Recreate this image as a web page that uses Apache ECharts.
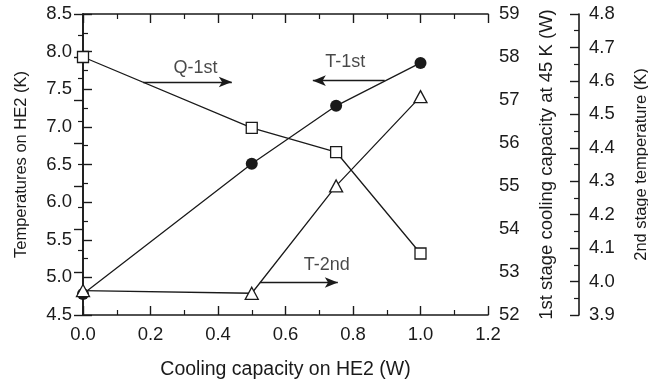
<!DOCTYPE html>
<html><head><meta charset="utf-8">
<script src="https://cdn.jsdelivr.net/npm/echarts@6/dist/echarts.min.js"></script>
<style>html,body{margin:0;padding:0;background:#fff}#c{width:648px;height:383px}</style>
</head><body><div id="c"></div>
<script>
// Data
var xValues = [0, 0.5, 0.75, 1.0];
var t1stValues = [4.78, 6.51, 7.28, 7.85];        // left axis (K)
var q1stValues = [58.0, 56.35, 55.79, 53.43];     // right axis 1 (W)
var t2ndValues = [3.973, 3.965, 4.286, 4.553];    // right axis 2 (K)
// annotation labels with arrow (data coordinates on x / left axis)
var annoLabels = ['Q-1st', 'T-1st', 'T-2nd'];
var annoTextPos = [[0.333, 7.78], [0.777, 7.866], [0.7225, 5.165]];
var annoArrowFrom = [[0.178, 7.596], [0.894, 7.614], [0.524, 4.932]];
var annoArrowTo = [[0.441, 7.596], [0.681, 7.614], [0.755, 4.932]];

var FONT = 'Liberation Sans, Arial, Helvetica, sans-serif';
var INK = '#1a1a1a';
var TICK_FS = 18.5;

function pairs(xs, ys) { return xs.map(function (x, i) { return [x, ys[i]]; }); }

var axisCommon = {
  axisLine: { show: true, lineStyle: { color: INK, width: 1.6 } },
  axisTick: { show: true, inside: true, length: 9, lineStyle: { color: INK, width: 1.4 } },
  minorTick: { show: true, splitNumber: 2, length: 5, lineStyle: { color: INK, width: 1.2 } },
  splitLine: { show: false },
  axisLabel: { color: INK, fontFamily: FONT, fontSize: TICK_FS },
  nameTextStyle: { color: INK, fontFamily: FONT, fontSize: 16 }
};
function ax(o) { return Object.assign({}, JSON.parse(JSON.stringify(axisCommon)), o); }
function lbl(margin, fmt) {
  var o = { color: INK, fontFamily: FONT, fontSize: TICK_FS, margin: margin };
  if (fmt) o.formatter = fmt;
  return o;
}
function f1(v) { return v.toFixed(1); }

var chart = echarts.init(document.getElementById('c'), null, { renderer: 'canvas' });

var lineStyle = { color: INK, width: 1.3 };

var option = {
  animation: false,
  backgroundColor: '#fff',
  grid: { left: 83, top: 14, right: 160, bottom: 68, containLabel: false, outerBoundsMode: 'none' },
  xAxis: [
    ax({ type: 'value', min: 0, max: 1.2, interval: 0.2, position: 'bottom',
      name: 'Cooling capacity on HE2 (W)', nameLocation: 'middle', nameGap: 45,
      nameTextStyle: { color: INK, fontFamily: FONT, fontSize: 19.5 },
      axisLabel: lbl(10, f1) }),
    ax({ type: 'value', min: 0, max: 1.2, interval: 0.2, position: 'top',
      axisLabel: { show: false } })
  ],
  yAxis: [
    ax({ type: 'value', min: 4.5, max: 8.5, interval: 0.5, position: 'left',
      name: 'Temperatures on HE2 (K)', nameLocation: 'middle', nameGap: 53,
      nameTextStyle: { color: INK, fontFamily: FONT, fontSize: 16.5 },
      axisLabel: lbl(11, f1) }),
    ax({ type: 'value', min: 52, max: 59, interval: 1, position: 'right', offset: 0,
      name: '1st stage cooling capacity at 45 K (W)', nameLocation: 'middle', nameGap: 49,
      nameTextStyle: { color: INK, fontFamily: FONT, fontSize: 18.5 },
      axisLabel: lbl(11) }),
    ax({ type: 'value', min: 3.9, max: 4.8, interval: 0.1, position: 'right', offset: 91,
      name: '2nd stage temperature (K)', nameLocation: 'middle', nameGap: 54,
      nameTextStyle: { color: INK, fontFamily: FONT, fontSize: 16.5 },
      axisLabel: lbl(10, f1) })
  ],
  series: [
    {
      name: 'Q-1st', type: 'line', xAxisIndex: 0, yAxisIndex: 1,
      data: pairs(xValues, q1stValues),
      symbol: 'rect', symbolSize: 11, showAllSymbol: true,
      itemStyle: { color: '#fff', borderColor: INK, borderWidth: 1.3 },
      lineStyle: lineStyle, z: 2
    },
    {
      name: 'T-1st', type: 'line', xAxisIndex: 0, yAxisIndex: 0,
      data: pairs(xValues, t1stValues),
      symbol: 'circle', symbolSize: 12, showAllSymbol: true,
      itemStyle: { color: INK, borderColor: INK, borderWidth: 0 },
      lineStyle: lineStyle, z: 3,
      markLine: {
        silent: true, symbol: ['none', 'arrow'], symbolSize: [8, 13], precision: 4,
        lineStyle: { color: INK, width: 1.3, type: 'solid' },
        label: { show: false },
        data: annoArrowFrom.map(function (f, i) {
          return [{ coord: f }, { coord: annoArrowTo[i] }];
        })
      }
    },
    {
      name: 'T-2nd', type: 'line', xAxisIndex: 0, yAxisIndex: 2,
      data: pairs(xValues, t2ndValues),
      symbol: 'triangle', symbolSize: [13, 12], showAllSymbol: true,
      itemStyle: { color: '#fff', borderColor: INK, borderWidth: 1.3 },
      lineStyle: lineStyle, z: 4
    },
    {
      name: 'labels', type: 'scatter', xAxisIndex: 0, yAxisIndex: 0,
      data: annoTextPos.map(function (p, i) { return { value: p, name: annoLabels[i] }; }),
      symbolSize: 0, silent: true,
      label: { show: true, position: 'inside', formatter: '{b}', color: INK, fontFamily: FONT, fontSize: 18 }
    }
  ]
};
chart.setOption(option);
</script>
</body></html>
